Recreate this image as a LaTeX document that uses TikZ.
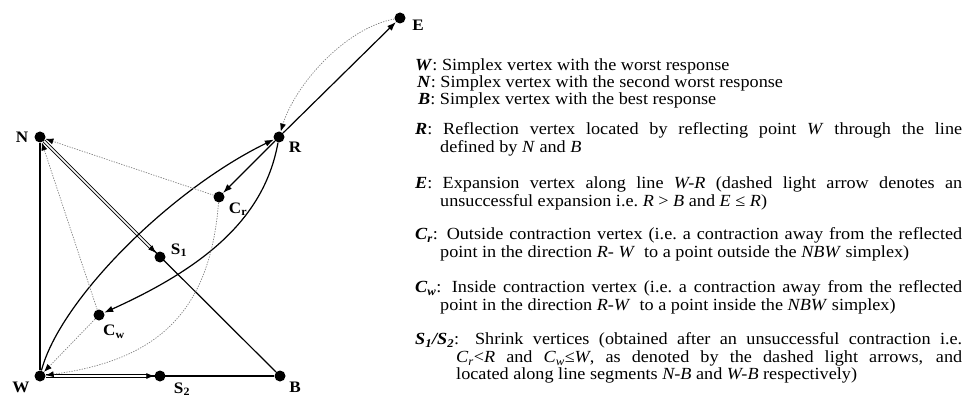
\documentclass[tikz,border=0pt]{standalone}
\usepackage{fontspec}
\setmainfont{Liberation Serif}[FakeStretch=1.07]
\usetikzlibrary{arrows.meta}
\newcommand{\lgfont}{\fontsize{17}{17.5}\selectfont\hyphenpenalty=10000 \tolerance=9999 \emergencystretch=20pt\relax}
\tikzset{
  vtx/.style={circle,fill=black,inner sep=0pt,minimum size=11pt},
  vlab/.style={font=\fontsize{16}{16}\selectfont\bfseries,inner sep=0pt},
  edge/.style={line width=1.2pt},
  solidarrow/.style={line width=1.2pt,-{Latex[length=9pt,width=6.5pt]}},
  lightarrow/.style={draw=gray,line width=0.7pt,dash pattern=on 1.3pt off 1.3pt,-{Latex[length=8pt,width=6pt,color=black]}},
  dblarrow/.style={double,line width=0.8pt,double distance=1.6pt,-{Latex[length=8pt,width=6pt]}},
  legend/.style={anchor=north west,inner sep=0pt,text width=547pt,align=justify,font=\lgfont},
}
\begin{document}
\begin{tikzpicture}[x=1pt,y=-1pt]
\useasboundingbox (0,0) rectangle (973,403);
% vertices
\node[vtx] (W) at (40,376) {};
\node[vtx] (N) at (40,137) {};
\node[vtx] (B) at (280,376) {};
\node[vtx] (R) at (279,137) {};
\node[vtx] (E) at (400,18) {};
\node[vtx] (Cr) at (219,197) {};
\node[vtx] (S1) at (160,257) {};
\node[vtx] (Cw) at (99,315) {};
\node[vtx] (S2) at (160,376) {};
% vertex labels
\node[vlab] (lN) at (22,137) {N};
\node[vlab] (lW) at (21,387) {W};
\node[vlab] (lB) at (295,387) {B};
\node[vlab] (lR) at (295,147) {R};
\node[vlab] (lE) at (418,25) {E};
\node[vlab] (lS1) at (179,250) {S\textsubscript{1}};
\node[vlab] (lS2) at (182,389) {S\textsubscript{2}};
\node[vlab] (lCr) at (238,209) {C\textsubscript{r}};
\node[vlab] (lCw) at (114,332) {C\textsubscript{w}};
% simplex
\draw[edge] (W) -- (N);
\draw[edge] (N) -- (B);
\draw[edge] (W) -- (B);
% shrink arrows
\draw[dblarrow] (N) -- (S1);
\draw[dblarrow] (W) -- (S2);
% solid arrows
\draw[solidarrow] (W) .. controls (60,300) and (170,190) .. (R);
\draw[solidarrow] (R) -- (E);
\draw[solidarrow] (R) -- (Cr);
\draw[solidarrow] (R) .. controls (265,215) and (210,265) .. (Cw);
% light dashed arrows
\draw[lightarrow] (E) .. controls (345,28) and (295,85) .. (R);
\draw[lightarrow] (Cr) -- (N);
\draw[lightarrow] (Cw) -- (N);
\draw[lightarrow] (Cw) -- (W);
\draw[lightarrow] (Cr) .. controls (210,310) and (160,360) .. (W);
% legend
\node[legend] (t1) at (415,58.5) {\strut\textbf{\textit{W}}: Simplex vertex with the worst response};
\node[legend] (t2) at (417,75.5) {\strut\textbf{\textit{N}}: Simplex vertex with the second worst response};
\node[legend] (t3) at (418,92.5) {\strut\textbf{\textit{B}}: Simplex vertex with the best response};
\node[legend] (t4) at (415,122.5) {\strut\hangindent=25pt\hangafter=1 \textbf{\textit{R}}: Reflection vertex located by reflecting point \textit{W} through the line\linebreak defined by \textit{N} and \textit{B}\par};
\node[legend] (t5) at (415,176.5) {\strut\hangindent=25pt\hangafter=1 \textbf{\textit{E}}: Expansion vertex along line \textit{W-R} (dashed light arrow denotes an\linebreak unsuccessful expansion i.e.\ \textit{R} > \textit{B} and \textit{E} ≤ \textit{R})\par};
\node[legend] (t6) at (415,227.5) {\strut\hangindent=25pt\hangafter=1 \textbf{\textit{C\textsubscript{r}}}: Outside contraction vertex (i.e.\ a contraction away from the reflected\linebreak point in the direction \textit{R- W} \ to a point outside the \textit{NBW} simplex)\par};
\node[legend] (t7) at (415,280.5) {\strut\hangindent=25pt\hangafter=1 \textbf{\textit{C\textsubscript{w}}}: Inside contraction vertex (i.e.\ a contraction away from the reflected\linebreak point in the direction \textit{R-W} \ to a point inside the \textit{NBW} simplex)\par};
\node[legend] (t8) at (415,332.5) {\strut\hangindent=41pt\hangafter=1 \textbf{\textit{S\textsubscript{1}/S\textsubscript{2}}}: Shrink vertices (obtained after an unsuccessful contraction i.e.\linebreak \textit{C\textsubscript{r}}<\textit{R} and \textit{C\textsubscript{w}}≤\textit{W}, as denoted by the dashed light arrows, and\linebreak located along line segments \textit{N-B} and \textit{W-B} respectively)\par};
\end{tikzpicture}
\end{document}
